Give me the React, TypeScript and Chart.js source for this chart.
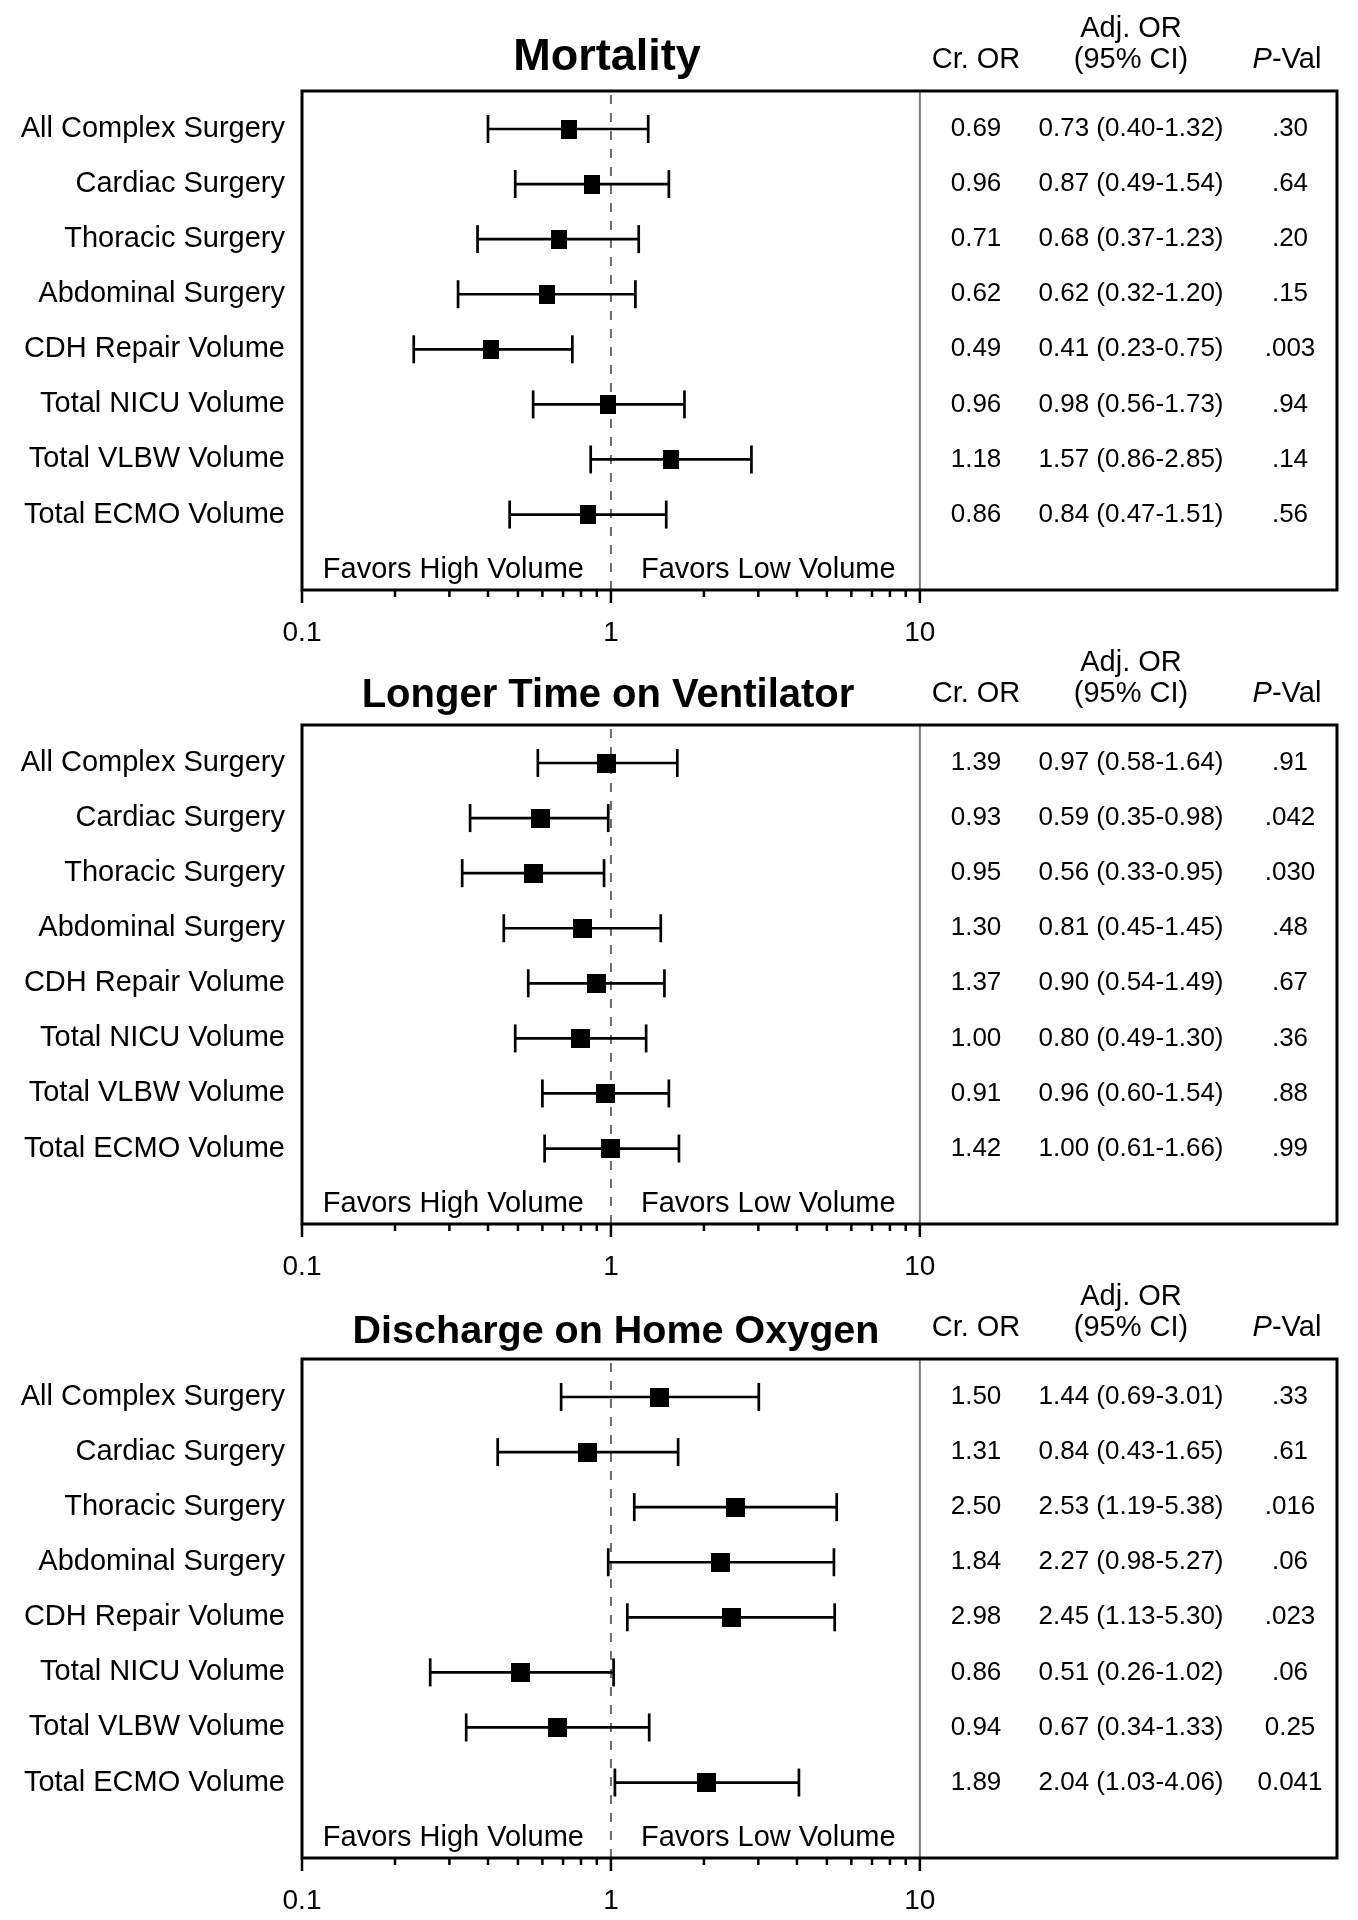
import React, { useEffect, useRef } from 'react';
import { Chart, registerables } from 'chart.js';

Chart.register(...registerables);

// ---------- data ----------
const rowLabels = [
  'All Complex Surgery',
  'Cardiac Surgery',
  'Thoracic Surgery',
  'Abdominal Surgery',
  'CDH Repair Volume',
  'Total NICU Volume',
  'Total VLBW Volume',
  'Total ECMO Volume',
];

const xTickValues = [0.1, 1, 10];
const xMinorTickValues = [0.2, 0.3, 0.4, 0.5, 0.6, 0.7, 0.8, 0.9, 2, 3, 4, 5, 6, 7, 8, 9];
const xMin = 0.1;
const xMax = 224;

const mortalityCrude = [0.69, 0.96, 0.71, 0.62, 0.49, 0.96, 1.18, 0.86];
const mortalityAdj = [0.73, 0.87, 0.68, 0.62, 0.41, 0.98, 1.57, 0.84];
const mortalityLow = [0.4, 0.49, 0.37, 0.32, 0.23, 0.56, 0.86, 0.47];
const mortalityHigh = [1.32, 1.54, 1.23, 1.2, 0.75, 1.73, 2.85, 1.51];
const mortalityP = ['.30', '.64', '.20', '.15', '.003', '.94', '.14', '.56'];

const ventCrude = [1.39, 0.93, 0.95, 1.3, 1.37, 1.0, 0.91, 1.42];
const ventAdj = [0.97, 0.59, 0.56, 0.81, 0.9, 0.8, 0.96, 1.0];
const ventLow = [0.58, 0.35, 0.33, 0.45, 0.54, 0.49, 0.6, 0.61];
const ventHigh = [1.64, 0.98, 0.95, 1.45, 1.49, 1.3, 1.54, 1.66];
const ventP = ['.91', '.042', '.030', '.48', '.67', '.36', '.88', '.99'];

const oxyCrude = [1.5, 1.31, 2.5, 1.84, 2.98, 0.86, 0.94, 1.89];
const oxyAdj = [1.44, 0.84, 2.53, 2.27, 2.45, 0.51, 0.67, 2.04];
const oxyLow = [0.69, 0.43, 1.19, 0.98, 1.13, 0.26, 0.34, 1.03];
const oxyHigh = [3.01, 1.65, 5.38, 5.27, 5.3, 1.02, 1.33, 4.06];
const oxyP = ['.33', '.61', '.016', '.06', '.023', '.06', '0.25', '0.041'];

const panelTitles = ['Mortality', 'Longer Time on Ventilator', 'Discharge on Home Oxygen'];
const favorsLeft = 'Favors High Volume';
const favorsRight = 'Favors Low Volume';

// ---------- layout ----------
const FONT = '"Liberation Sans", Arial, Helvetica, sans-serif';
const W = 1358;
const BOX_TOP = 91;
const BOX_BOTTOM = 590;

type Panel = {
  title: string;
  crude: number[];
  adj: number[];
  low: number[];
  high: number[];
  p: string[];
  top: number;
  height: number;
  markerW: number;
  markerH: number;
  titleX: number;
  titleY: number;
  titleSize: number;
};

const panels: Panel[] = [
  { title: panelTitles[0], crude: mortalityCrude, adj: mortalityAdj, low: mortalityLow, high: mortalityHigh, p: mortalityP, top: 0, height: 660, markerW: 16, markerH: 19, titleX: 607, titleY: 58, titleSize: 45 },
  { title: panelTitles[1], crude: ventCrude, adj: ventAdj, low: ventLow, high: ventHigh, p: ventP, top: 634, height: 660, markerW: 19, markerH: 19, titleX: 608, titleY: 62, titleSize: 40 },
  { title: panelTitles[2], crude: oxyCrude, adj: oxyAdj, low: oxyLow, high: oxyHigh, p: oxyP, top: 1268, height: 652, markerW: 19, markerH: 19, titleX: 616, titleY: 64, titleSize: 39.5 },
];

function makeMarker(w: number, h: number) {
  const c = document.createElement('canvas');
  c.width = w;
  c.height = h;
  const g = c.getContext('2d')!;
  g.fillStyle = '#000';
  g.fillRect(0, 0, w, h);
  return c;
}

function makePlugin(p: Panel) {
  return {
    id: 'forest',
    beforeDatasetsDraw(chart: any) {
      const { ctx, chartArea: a, scales } = chart;
      const x = scales.x;
      ctx.save();
      const x10 = x.getPixelForValue(10);
      ctx.strokeStyle = '#7a7a7a';
      ctx.lineWidth = 2;
      ctx.beginPath();
      ctx.moveTo(x10, a.top);
      ctx.lineTo(x10, a.bottom);
      ctx.stroke();
      const x1 = x.getPixelForValue(1);
      ctx.strokeStyle = '#6a6a6a';
      ctx.setLineDash([9, 9]);
      ctx.beginPath();
      ctx.moveTo(x1, a.top + 4);
      ctx.lineTo(x1, a.bottom);
      ctx.stroke();
      ctx.restore();
    },
    afterDraw(chart: any) {
      const { ctx, chartArea: a, scales } = chart;
      const x = scales.x;
      const y = scales.y;
      ctx.save();
      // box
      ctx.strokeStyle = '#000';
      ctx.lineWidth = 3;
      ctx.strokeRect(a.left, a.top, a.right - a.left, a.bottom - a.top);
      // ticks
      ctx.lineWidth = 2.5;
      ctx.beginPath();
      xMinorTickValues.forEach((v) => {
        const px = x.getPixelForValue(v);
        ctx.moveTo(px, a.bottom);
        ctx.lineTo(px, a.bottom + 7);
      });
      xTickValues.forEach((v) => {
        const px = x.getPixelForValue(v);
        ctx.moveTo(px, a.bottom);
        ctx.lineTo(px, a.bottom + 13);
      });
      ctx.stroke();

      ctx.fillStyle = '#000';
      ctx.textBaseline = 'middle';
      // title
      ctx.font = `bold ${p.titleSize}px ${FONT}`;
      ctx.textAlign = 'center';
      ctx.fillText(p.title, p.titleX, p.titleY);
      // headers
      ctx.font = `29px ${FONT}`;
      ctx.fillText('Cr. OR', 976, 60);
      ctx.fillText('Adj. OR', 1131, 29);
      ctx.fillText('(95% CI)', 1131, 60);
      ctx.font = `italic 29px ${FONT}`;
      const wP = ctx.measureText('P').width;
      ctx.font = `29px ${FONT}`;
      const wV = ctx.measureText('-Val').width;
      const start = 1287 - (wP + wV) / 2;
      ctx.textAlign = 'left';
      ctx.font = `italic 29px ${FONT}`;
      ctx.fillText('P', start, 60);
      ctx.font = `29px ${FONT}`;
      ctx.fillText('-Val', start + wP, 60);
      // table rows
      ctx.textAlign = 'center';
      ctx.font = `26px ${FONT}`;
      rowLabels.forEach((_, i) => {
        const py = y.getPixelForValue(i);
        ctx.fillText(p.crude[i].toFixed(2), 976, py);
        ctx.fillText(`${p.adj[i].toFixed(2)} (${p.low[i].toFixed(2)}-${p.high[i].toFixed(2)})`, 1131, py);
        ctx.fillText(p.p[i], 1290, py);
      });
      // favors
      const fy = y.getPixelForValue(rowLabels.length);
      const x1 = x.getPixelForValue(1);
      ctx.font = `29px ${FONT}`;
      ctx.textAlign = 'right';
      ctx.fillText(favorsLeft, x1 - 27, fy);
      ctx.textAlign = 'left';
      ctx.fillText(favorsRight, x1 + 30, fy);
      ctx.restore();
    },
  };
}

function PanelChart({ panel }: { panel: Panel }) {
  const ref = useRef<HTMLCanvasElement | null>(null);
  useEffect(() => {
    const canvas = ref.current;
    if (!canvas) return;
    const p = panel;
    const axisH = p.height - BOX_BOTTOM;
    const marker = makeMarker(p.markerW, p.markerH);
    const segments: any[] = [];
    p.low.forEach((lo, i) => {
      segments.push({ x: lo, y: i });
      segments.push({ x: p.high[i], y: i });
      segments.push({ x: NaN, y: i });
    });
    const chart = new Chart(canvas, {
      type: 'scatter',
      data: {
        datasets: [
          {
            type: 'line',
            data: segments,
            borderColor: '#000',
            borderWidth: 2.7,
            pointRadius: 0,
            showLine: true,
            spanGaps: false,
            fill: false,
            order: 4,
          } as any,
          {
            type: 'scatter',
            data: p.low.map((v, i) => ({ x: v, y: i })),
            pointStyle: 'line',
            pointRotation: 90,
            pointRadius: 14,
            pointBorderColor: '#000',
            pointBorderWidth: 2.7,
            order: 3,
          } as any,
          {
            type: 'scatter',
            data: p.high.map((v, i) => ({ x: v, y: i })),
            pointStyle: 'line',
            pointRotation: 90,
            pointRadius: 14,
            pointBorderColor: '#000',
            pointBorderWidth: 2.7,
            order: 2,
          } as any,
          {
            type: 'scatter',
            data: p.adj.map((v, i) => ({ x: v, y: i })),
            pointStyle: marker,
            pointRadius: 10,
            order: 1,
          } as any,
        ],
      },
      options: {
        animation: false,
        responsive: false,
        devicePixelRatio: 1,
        events: [],
        layout: { padding: { top: BOX_TOP, right: W - 1337, bottom: 0, left: 0 } },
        plugins: { legend: { display: false }, tooltip: { enabled: false }, title: { display: false } },
        scales: {
          x: {
            type: 'logarithmic',
            min: xMin,
            max: xMax,
            bounds: 'data',
            grid: { display: false, drawTicks: false },
            border: { display: false },
            afterBuildTicks: (s: any) => {
              s.ticks = xTickValues.map((v) => ({ value: v }));
            },
            afterFit: (s: any) => {
              s.height = axisH;
            },
            ticks: {
              autoSkip: false,
              maxRotation: 0,
              padding: 26,
              color: '#000',
              font: { size: 28, family: FONT },
              callback: (v: any) => String(v),
            },
          },
          y: {
            type: 'linear',
            reverse: true,
            min: -0.69,
            max: 8.37,
            bounds: 'data',
            grid: { display: false, drawTicks: false },
            border: { display: false },
            afterBuildTicks: (s: any) => {
              s.ticks = rowLabels.map((_, i) => ({ value: i }));
            },
            afterFit: (s: any) => {
              s.width = 302;
            },
            ticks: {
              autoSkip: false,
              padding: 17,
              color: '#000',
              font: { size: 29, family: FONT },
              callback: (v: any) => rowLabels[v] ?? '',
            },
          },
        },
      } as any,
      plugins: [makePlugin(p)],
    });
    return () => chart.destroy();
  }, [panel]);
  return (
    <canvas
      ref={ref}
      width={W}
      height={panel.height}
      style={{ position: 'absolute', left: 0, top: panel.top, width: W, height: panel.height }}
    />
  );
}

export default function App() {
  return (
    <div style={{ position: 'absolute', left: 0, top: 0, width: W, height: 1920, background: '#fff', overflow: 'hidden' }}>
      {panels.map((p) => (
        <PanelChart key={p.title} panel={p} />
      ))}
    </div>
  );
}
